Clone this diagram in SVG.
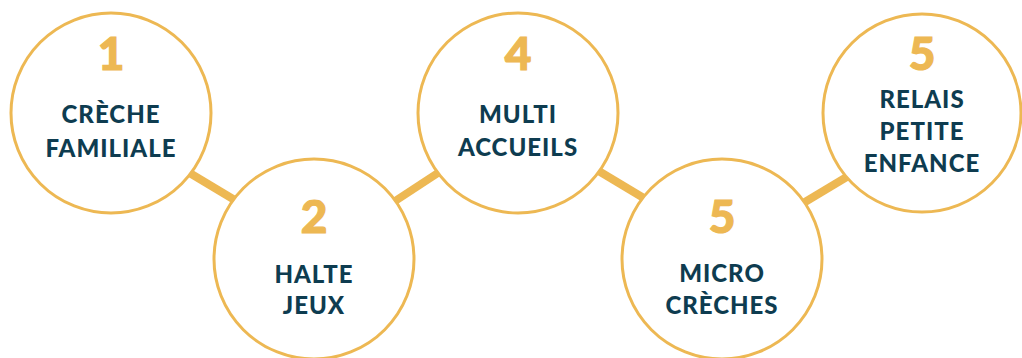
<svg xmlns="http://www.w3.org/2000/svg" width="1022" height="358" viewBox="0 0 1022 358">
<style>
.ring{fill:#ffffff;stroke:#EDB853;stroke-width:3}
.link{stroke:#EDB853;stroke-width:8;stroke-linecap:butt}
.num{font-family:Lato,"Liberation Sans",sans-serif;font-weight:900;font-size:46px;fill:#EDB853;text-anchor:middle;stroke:#EDB853;stroke-width:1.2}
.lbl{font-family:Lato,"Liberation Sans",sans-serif;font-weight:900;font-size:24px;fill:#0E3C50;text-anchor:middle;letter-spacing:1px}
</style>
<rect width="1022" height="358" fill="#ffffff"/>
<g id="connectors">
<line class="link" x1="183" y1="169" x2="243" y2="205"/>
<line class="link" x1="386" y1="207" x2="447" y2="167"/>
<line class="link" x1="592" y1="167" x2="652" y2="203"/>
<line class="link" x1="795" y1="208" x2="855" y2="172"/>
</g>
<g id="node1">
<circle class="ring" cx="111" cy="113" r="100"/>
<text class="num" x="111" y="70">1</text>
<text class="lbl" x="111" y="123">CRÈCHE</text>
<text class="lbl" x="111" y="157">FAMILIALE</text>
</g>
<g id="node2">
<circle class="ring" cx="314" cy="259" r="100"/>
<text class="num" x="314" y="233">2</text>
<text class="lbl" x="314" y="283">HALTE</text>
<text class="lbl" x="314" y="314">JEUX</text>
</g>
<g id="node3">
<circle class="ring" cx="518" cy="113" r="100"/>
<text class="num" x="518" y="70">4</text>
<text class="lbl" x="518" y="123">MULTI</text>
<text class="lbl" x="518" y="156">ACCUEILS</text>
</g>
<g id="node4">
<circle class="ring" cx="722" cy="259" r="100"/>
<text class="num" x="722" y="233">5</text>
<text class="lbl" x="722" y="282">MICRO</text>
<text class="lbl" x="722" y="314">CRÈCHES</text>
</g>
<g id="node5">
<circle class="ring" cx="922" cy="113" r="99"/>
<text class="num" x="922" y="70">5</text>
<text class="lbl" x="922" y="108">RELAIS</text>
<text class="lbl" x="922" y="140">PETITE</text>
<text class="lbl" x="922" y="172">ENFANCE</text>
</g>
</svg>
